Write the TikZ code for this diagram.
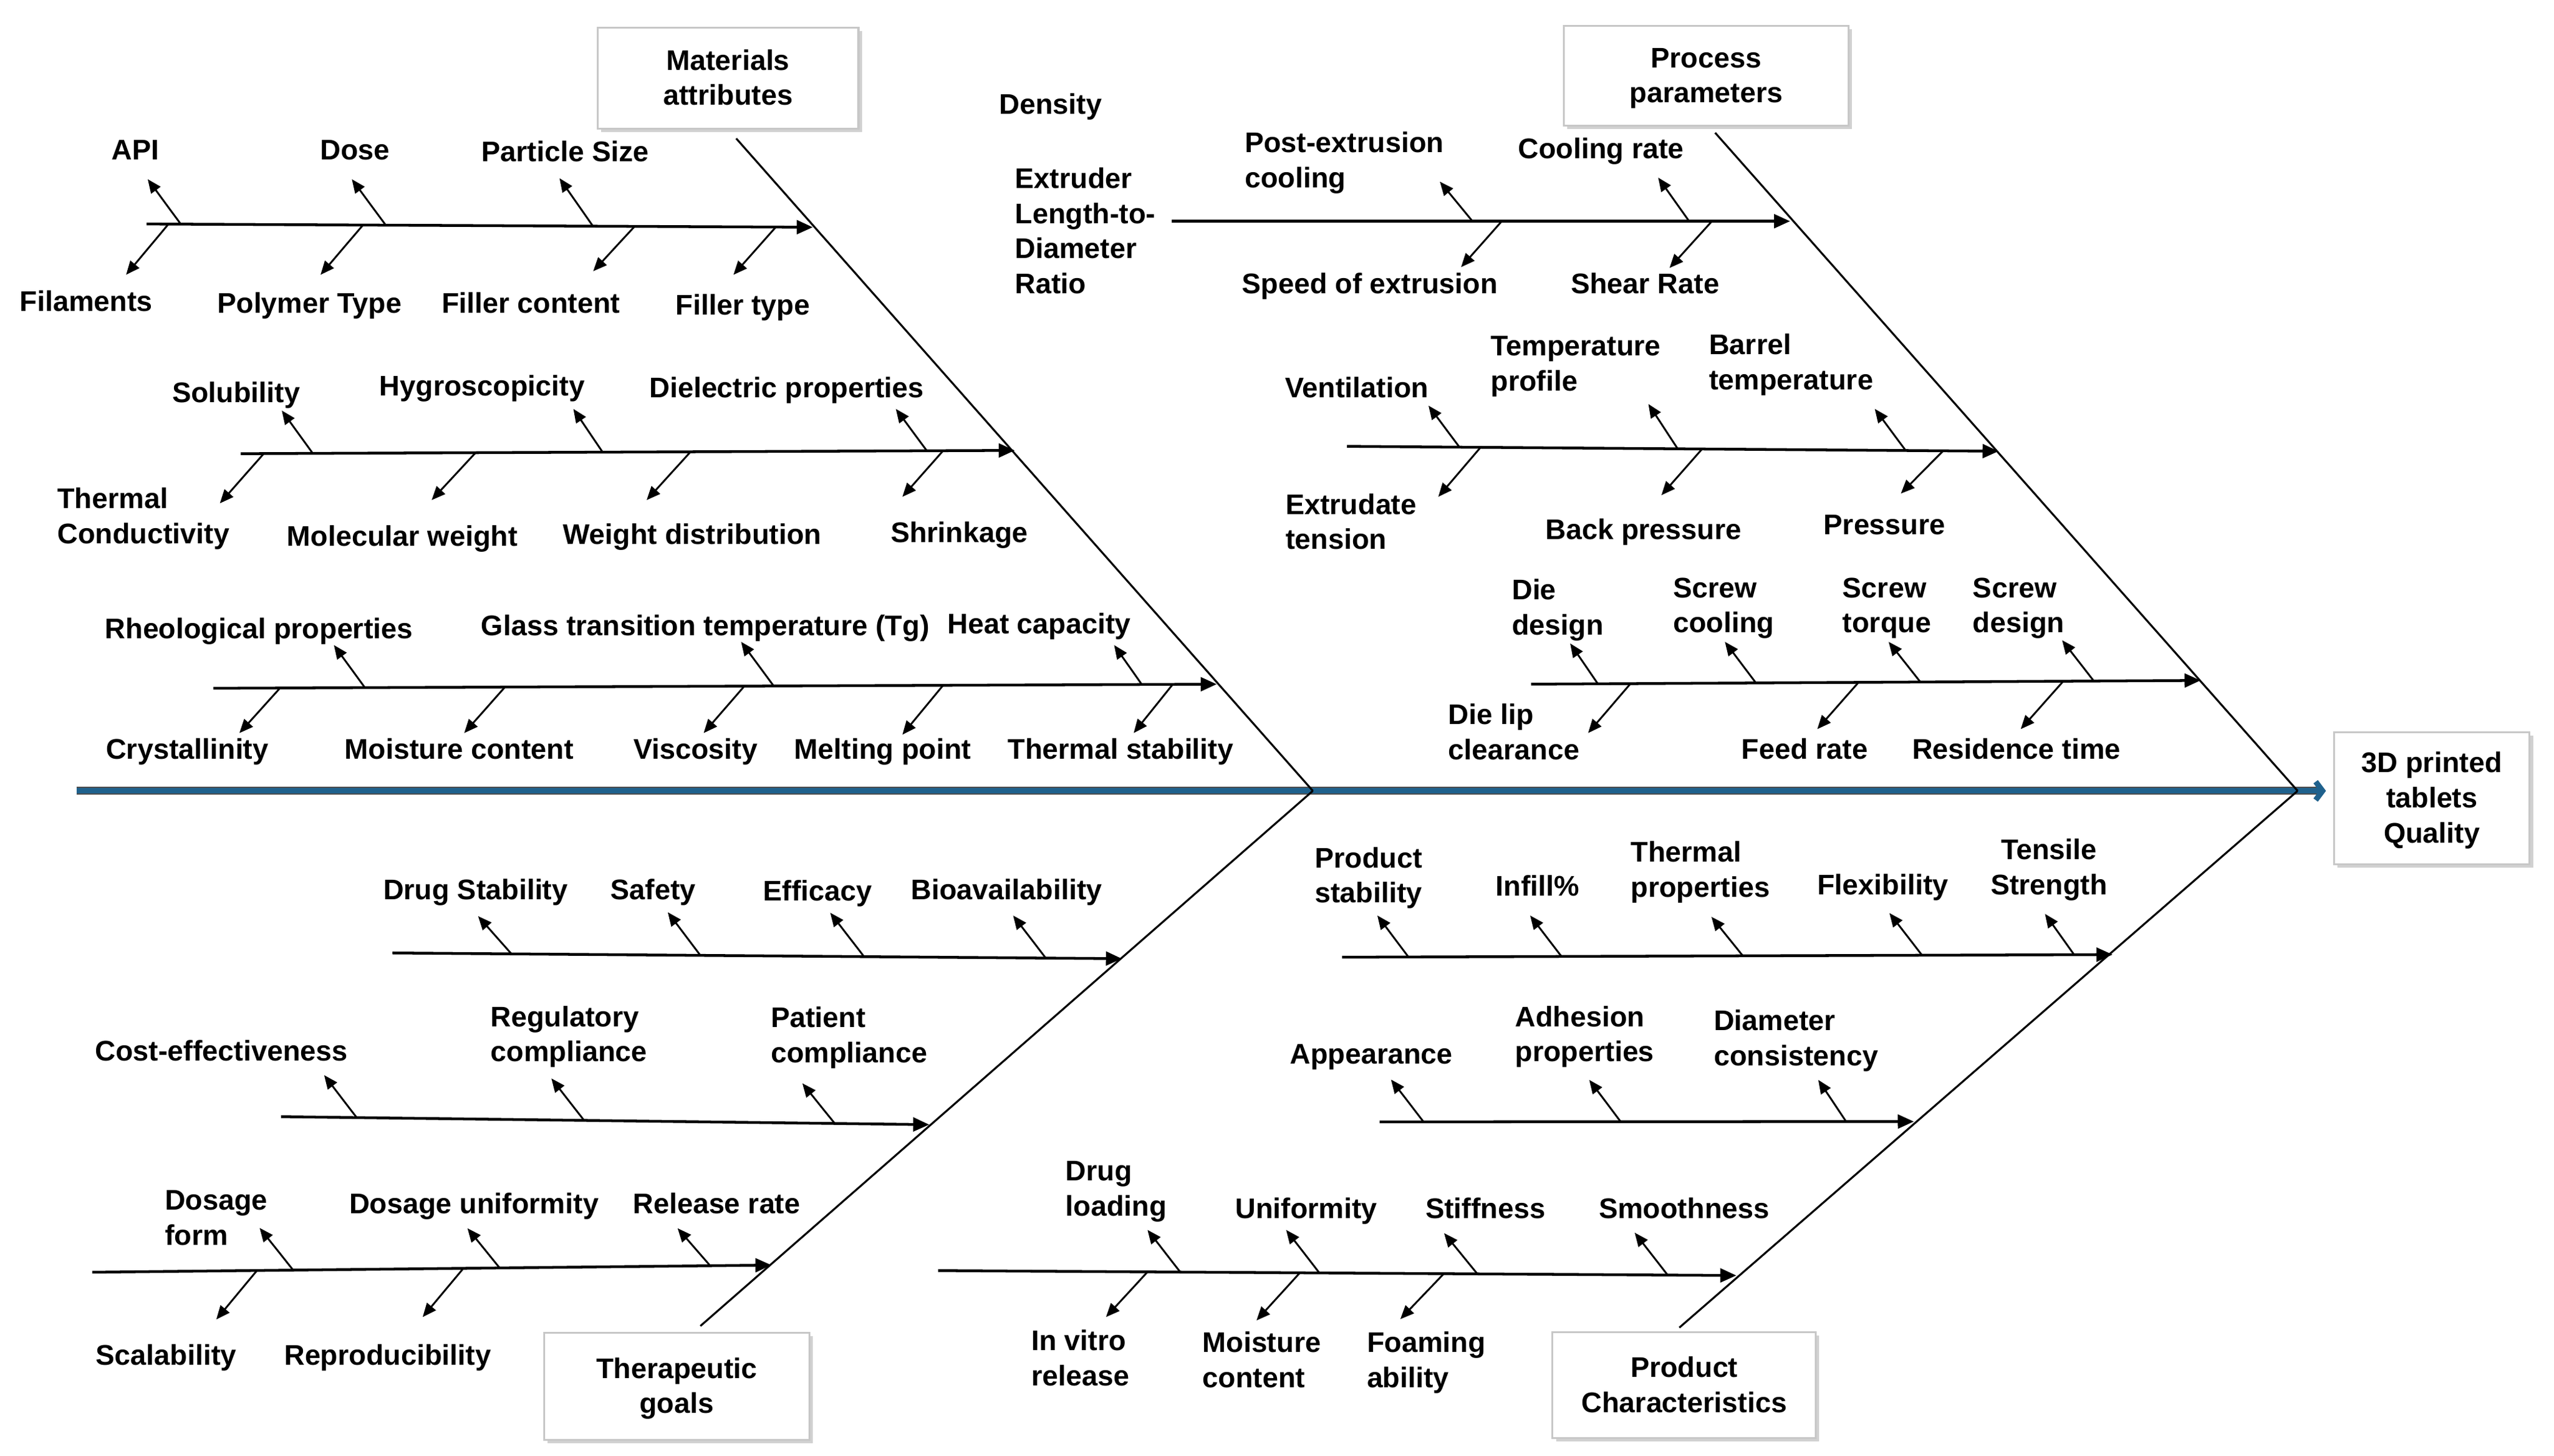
\documentclass[tikz,border=0pt]{standalone}
\usepackage{fontspec}
\setmainfont{Liberation Sans}
\usetikzlibrary{arrows.meta,shadows}
\definecolor{spineblue}{RGB}{31,97,141}
\newcommand\labfont{\fontsize{12.4}{15.3}\selectfont\bfseries}
\newcommand\NL{\\\strut}
\newcommand\FL{\rule{0pt}{12.9pt}}
\newcommand\sa[3]{\coordinate (#1-b) at (#2); \coordinate (#1-t) at (#3); \draw[subarrow] (#1-b) -- (#1-t);}
\newcommand\br[3]{\coordinate (#1-s) at (#2); \coordinate (#1-e) at (#3); \draw[branch] (#1-s) -- (#1-e);}
\begin{document}
\begin{tikzpicture}[x=0.025cm,y=-0.025cm,
  lab/.style={font=\labfont, inner sep=0pt, yshift=-2pt, execute at begin node=\strut},
  labL/.style={lab, anchor=west, align=left},
  labC/.style={lab, align=center},
  subarrow/.style={line width=0.8pt, -{Triangle[length=6pt,width=5pt]}},
  branch/.style={line width=1.2pt, -{Triangle[length=7pt,width=6pt]}},
  bone/.style={line width=0.85pt},
  box/.style={draw=black!22, line width=0.8pt, fill=white, align=center, font=\labfont, inner sep=0pt,
     drop shadow={shadow xshift=1.5pt, shadow yshift=-1.5pt, fill=black, opacity=0.18}}]
\path[use as bounding box, fill=white] (0,0) rectangle (1568,893.8);

% ---------- boxes ----------
\node[box, minimum width=4cm, minimum height=1.55cm] (mat) at (447,48) {\FL Materials\NL attributes};
\node[box, minimum width=4.375cm, minimum height=1.525cm] (proc) at (1047.5,46.5) {\FL Process\NL parameters};
\node[box, minimum width=4.075cm, minimum height=1.65cm] (ther) at (415.5,851) {\FL Therapeutic\NL goals};
\node[box, minimum width=4.04cm, minimum height=1.625cm] (prod) at (1034,850.4) {\FL Product\NL Characteristics};
\node[box, minimum width=3cm, minimum height=2.025cm] (q) at (1493,490) {\FL 3D printed\NL tablets\NL Quality};

% ---------- spine and bones ----------
\coordinate (sp-s) at (47,485.5);
\coordinate (sp-e) at (1428,485.5);
\coordinate (mid) at (806,485.5);
\coordinate (head) at (1410.6,485.5);
\coordinate (mTop) at (452,85);
\coordinate (pTop) at (1053,81.5);
\coordinate (tBot) at (430,814);
\coordinate (rBot) at (1031,815);
\draw[line width=3.4pt, black!70] (sp-s) -- (1423,485.5);
\draw[line width=2.4pt, spineblue, -{Straight Barb[length=3pt,width=8pt]}] (sp-s) -- (sp-e);
\draw[bone] (mTop) -- (mid);
\draw[bone] (pTop) -- (head);
\draw[bone] (mid) -- (tBot);
\draw[bone] (head) -- (rBot);

% ---------- Materials attributes ----------
\br{m1}{90,137.5}{499,139.5}
\br{m2}{147.8,278.5}{623,276.5}
\br{m3}{131,422.5}{747,420}
\sa{api}{111,137.6}{90.7,110}
\sa{dose}{236.8,138.2}{216,110}
\sa{psize}{364,138.8}{343.5,109.4}
\sa{fil}{103.4,137.6}{77.4,168.7}
\sa{ptype}{222.8,138.2}{196.8,168.7}
\sa{fcont}{389.6,139}{364.2,166.5}
\sa{ftype}{476.3,139.4}{450.3,168.7}
\sa{solub}{192,278.3}{173,252}
\sa{hygro}{370,277.6}{352,251}
\sa{dielec}{569,276.7}{550,251}
\sa{thcond}{162,278.4}{135,309}
\sa{molw}{292,277.9}{265,307}
\sa{wdist}{424,277.3}{397,307}
\sa{shrink}{579,276.7}{554,305}
\sa{rheo}{224,422.1}{205,396}
\sa{glass}{475,421.1}{455,394}
\sa{heat}{701,420.2}{684,396}
\sa{cryst}{172,422.3}{147,450}
\sa{moist}{310,421.8}{285,450}
\sa{visc}{457,421.2}{432,450}
\sa{melt}{579,420.7}{554,451}
\sa{thstab}{720,420.1}{696,450}

\node[lab] (api) at (83,91) {API};
\node[lab] (dose) at (218,91) {Dose};
\node[lab] (psize) at (347,92) {Particle Size};
\node[lab] (fil) at (53,184) {Filaments};
\node[lab] (ptype) at (190,185) {Polymer Type};
\node[lab] (fcont) at (326,185) {Filler content};
\node[lab] (ftype) at (456,186) {Filler type};
\node[lab] (solub) at (145,240) {Solubility};
\node[lab] (hygro) at (296,236) {Hygroscopicity};
\node[lab] (dielec) at (483,237) {Dielectric properties};
\node[labL] (thcond) at (35,317) {Thermal\NL Conductivity};
\node[lab] (molw) at (247,328) {Molecular weight};
\node[lab] (wdist) at (425,327) {Weight distribution};
\node[lab] (shrink) at (589,326) {Shrinkage};
\node[lab] (rheo) at (159,385) {Rheological properties};
\node[lab] (glass) at (433,383) {Glass transition temperature (Tg)};
\node[lab] (heat) at (638,382) {Heat capacity};
\node[lab] (cryst) at (115,459) {Crystallinity};
\node[lab] (moist) at (282,459) {Moisture content};
\node[lab] (visc) at (427,459) {Viscosity};
\node[lab] (melt) at (542,459) {Melting point};
\node[lab] (thstab) at (688,459) {Thermal stability};

% ---------- Process parameters ----------
\br{p1}{719.5,135.8}{1099,135.8}
\br{p2}{827,274}{1227,277}
\br{p3}{940,420}{1351,417.7}
\sa{postex}{904,135.8}{884,111.5}
\sa{coolr}{1037,135.8}{1018,109}
\sa{speed}{922,135.8}{897,164}
\sa{shear}{1051,135.8}{1025,164.5}
\sa{vent}{896,274.5}{877,249}
\sa{tprof}{1030,275.5}{1012,248}
\sa{barrel}{1170,276.6}{1151,251}
\sa{extr}{909,274.6}{883,305}
\sa{backp}{1045,275.6}{1020,304}
\sa{press}{1193,276.7}{1167,303}
\sa{died}{981,419.8}{964,395}
\sa{scool}{1078,419.2}{1059,394}
\sa{storq}{1179,418.7}{1159.5,394}
\sa{sdes}{1285.5,418.1}{1266,393}
\sa{dlip}{1001,419.7}{975,450}
\sa{feed}{1141,418.9}{1115.7,447.6}
\sa{resid}{1266.7,418.2}{1240.6,447.6}

\node[lab] (density) at (645,63) {Density};
\node[labL] (ldr) at (623,142) {Extruder\NL Length-to-\NL Diameter\NL Ratio};
\node[labL] (postex) at (764,98.5) {Post-extrusion\NL cooling};
\node[lab] (coolr) at (983,90) {Cooling rate};
\node[lab] (speed) at (841,173) {Speed of extrusion};
\node[lab] (shear) at (1010,173) {Shear Rate};
\node[lab] (vent) at (833,237) {Ventilation};
\node[labL] (tprof) at (915,223.5) {Temperature\NL profile};
\node[labL] (barrel) at (1049,222.5) {Barrel\NL temperature};
\node[labL] (extr) at (789,320.5) {Extrudate\NL tension};
\node[lab] (backp) at (1009,324) {Back pressure};
\node[lab] (press) at (1157,321) {Pressure};
\node[labL] (died) at (928,373) {Die\NL design};
\node[labL] (scool) at (1027,372) {Screw\NL cooling};
\node[labL] (storq) at (1131,372) {Screw\NL torque};
\node[labL] (sdes) at (1211,372) {Screw\NL design};
\node[labL] (dlip) at (889,449.5) {Die lip\NL clearance};
\node[lab] (feed) at (1108,459) {Feed rate};
\node[lab] (resid) at (1238,459) {Residence time};

% ---------- Therapeutic goals ----------
\br{t1}{241,585}{688.8,588.5}
\br{t2}{172.5,685.5}{570.5,690.4}
\br{t3}{56.6,781}{473.6,776.6}
\sa{dstab}{314,585.6}{293.5,562.4}
\sa{safety}{430,586.5}{410,560}
\sa{effic}{530.5,587.3}{509.7,560.3}
\sa{bioav}{642,588.1}{622,562}
\sa{cost}{219,686.1}{199,660}
\sa{regul}{358.6,687.8}{338.5,662}
\sa{patient}{512.5,689.7}{492.6,665}
\sa{dform}{180,779.7}{159.4,753.8}
\sa{dunif}{306.8,778.4}{287,754}
\sa{release}{436,777}{416,754}
\sa{scal}{157.8,779.9}{132.8,810}
\sa{repro}{284.5,778.6}{259.5,808.5}

\node[lab] (dstab) at (292,545) {Drug Stability};
\node[lab] (safety) at (401,545) {Safety};
\node[lab] (effic) at (502,546) {Efficacy};
\node[lab] (bioav) at (618,545) {Bioavailability};
\node[lab] (cost) at (136,644) {Cost-effectiveness};
\node[labL] (regul) at (301,635) {Regulatory\NL compliance};
\node[labL] (patient) at (473,635.5) {Patient\NL compliance};
\node[labL] (dform) at (101,748) {Dosage\NL form};
\node[lab] (dunif) at (291,738) {Dosage uniformity};
\node[lab] (release) at (440,738) {Release rate};
\node[lab] (scal) at (102,831) {Scalability};
\node[lab] (repro) at (238,831) {Reproducibility};

% ---------- Product characteristics ----------
\br{r1}{824,587.6}{1297,586}
\br{r2}{847,688.7}{1175,688.5}
\br{r3}{576,780}{1066,783}
\sa{pstab}{864.7,587.5}{845.6,562}
\sa{infill}{958.6,587.1}{939.4,562}
\sa{thprop}{1070,586.8}{1050.7,562.8}
\sa{flex}{1180,586.4}{1160,560.5}
\sa{tensile}{1273.4,586.1}{1255.5,561}
\sa{appear}{874,688.7}{854,662.7}
\sa{adhes}{995,688.6}{975.7,662.9}
\sa{diam}{1133.4,688.5}{1116.3,662.9}
\sa{dload}{724.6,780.9}{704.5,755}
\sa{unif}{810,781.4}{789.6,755}
\sa{stiff}{907,782}{886.6,757}
\sa{smooth}{1023.8,782.7}{1003.6,756.7}
\sa{invitro}{704.5,780.8}{679,808.5}
\sa{moistc}{798,781.4}{771.4,810.6}
\sa{foam}{886.4,781.9}{859.7,809.8}

\node[labL] (pstab) at (807,537.5) {Product\NL stability};
\node[lab] (infill) at (944,543) {Infill\%};
\node[labL] (thprop) at (1001,534) {Thermal\NL properties};
\node[lab] (flex) at (1156,542) {Flexibility};
\node[labC] (tensile) at (1258,532.5) {Tensile\NL Strength};
\node[lab] (appear) at (842,646) {Appearance};
\node[labL] (adhes) at (930,635) {Adhesion\NL properties};
\node[labL] (diam) at (1052,637.5) {Diameter\NL consistency};
\node[labL] (dload) at (654,730) {Drug\NL loading};
\node[lab] (unif) at (802,741) {Uniformity};
\node[lab] (stiff) at (912,741) {Stiffness};
\node[lab] (smooth) at (1034,741) {Smoothness};
\node[labL] (invitro) at (633,834) {In vitro\NL release};
\node[labL] (moistc) at (738,835) {Moisture\NL content};
\node[labL] (foam) at (839,835) {Foaming\NL ability};
\end{tikzpicture}
\end{document}
